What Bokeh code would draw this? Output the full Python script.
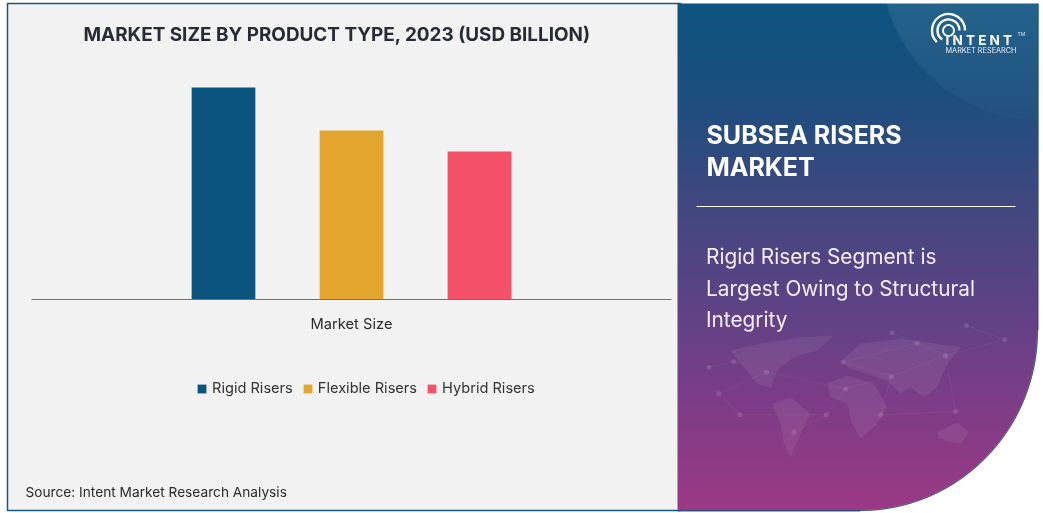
import numpy as np
from bokeh.embed import file_html
from bokeh.models import ColumnDataSource, FixedTicker, Label, Legend, LegendItem, LinearAxis, Range1d
from bokeh.plotting import figure
from bokeh.resources import INLINE
from bokeh.transform import dodge

# ---- chart data
categories = ["Market Size"]
series_names = ["Rigid Risers", "Flexible Risers", "Hybrid Risers"]
series_values = [10.6, 8.45, 7.4]
series_colors = ["#0b5480", "#e3a52d", "#f4506a"]
offsets = [-0.2, 0.0, 0.2]

title_text = "MARKET SIZE BY PRODUCT TYPE, 2023 (USD BILLION)"
source_text = "Source: Intent Market Research Analysis"
headline = ["SUBSEA RISERS", "MARKET"]
subhead = ["Rigid Risers Segment is", "Largest Owing to Structural", "Integrity"]

W, H = 1043, 513
FONT = "Inter"

# data -> page mapping: value 0 at y=299, 20 px per unit; group centre at x=351, 640 px per unit
p = figure(width=W, height=H, output_backend="svg", toolbar_location=None,
           x_range=Range1d(-351 / 640, (W - 351) / 640),
           y_range=Range1d((299 - H) / 20, 299 / 20),
           x_axis_location=None, y_axis_location=None,
           min_border=0, outline_line_color=None,
           background_fill_color="white", border_fill_color="white",
           styles={"position": "fixed", "left": "0", "top": "0"})
p.grid.visible = False
p.extra_x_ranges["px"] = Range1d(0, W)
p.extra_y_ranges["px"] = Range1d(H, 0)
px = dict(x_range_name="px", y_range_name="px")

# left panel and frame
p.quad(left=[7], right=[680], top=[3], bottom=[510], fill_color="#f2f2f2",
       line_color="#17577a", line_width=1.5, level="image", **px)

# right gradient panel as an RGBA image
x0, x1, y0, y1 = 677, 1038, 3, 511
xs = np.arange(x0, x1) + 0.5
ys = np.arange(y0, y1) + 0.5
X, Y = np.meshgrid(xs, ys)
stops_y = [3, 100, 200, 300, 400, 511]
stops = np.array([[13, 84, 128], [29, 78, 126], [64, 71, 127], [92, 67, 133], [125, 60, 135], [156, 57, 133]], float)
rgb = np.stack([np.interp(Y, stops_y, stops[:, i]) for i in range(3)], axis=-1)
d = np.hypot(X - 1040, Y + 40)
glow = np.clip((160.5 - d), 0, 1) * np.clip(0.09 - (Y / 1600), 0.015, 0.09)
rgb = rgb + (255 - rgb) * glow[..., None]
ECX, ECY, EA, EB = 860, 330, 177, 180
e = np.sqrt(((X - ECX) / EA) ** 2 + ((Y - ECY) / EB) ** 2)
mask = np.where((X > ECX) & (Y > ECY), np.clip((1 - e) * 170 + 0.5, 0, 1), 1.0)
img = np.zeros(X.shape, dtype=np.uint32)
view = img.view(dtype=np.uint8).reshape((*X.shape, 4))
view[..., :3] = np.round(rgb).astype(np.uint8)
view[..., 3] = np.round(mask * 255).astype(np.uint8)
p.image_rgba(image=[img], x=[x0], y=[y0], dw=[x1 - x0], dh=[y1 - y0], level="image", **px)

# thin dark edge around the right panel
t = np.radians(np.linspace(0, 90, 80))
edge_x = np.r_[1037.5, ECX + EA * np.cos(t), 677]
edge_y = np.r_[3, ECY + EB * np.sin(t), 510]
p.line(edge_x, edge_y, line_color="#27507c", line_width=1, line_alpha=0.9, **px)

# faint world map
Z = lambda pts: ([660 + a / 3 for a, _ in pts], [300 + b / 3 for _, b in pts])
continents = [
    [(210, 150), (300, 130), (420, 110), (520, 105), (470, 150), (400, 170), (350, 210), (330, 262), (290, 250), (250, 200)],
    [(335, 310), (390, 290), (450, 340), (420, 400), (390, 470), (370, 430), (360, 370)],
    [(500, 250), (560, 225), (640, 250), (680, 320), (650, 370), (600, 415), (575, 370), (560, 310), (510, 290)],
    [(545, 180), (600, 130), (720, 115), (900, 140), (860, 190), (830, 260), (790, 290), (750, 260), (720, 280), (680, 240), (620, 220), (560, 200)],
    [(830, 395), (890, 365), (925, 395), (900, 430), (835, 415)],
]
cx = [Z(c)[0] for c in continents]
cy = [Z(c)[1] for c in continents]
p.patches(cx, cy, fill_color="white", fill_alpha=0.07, line_color=None, **px)
nodes = [(145, 200), (220, 183), (318, 215), (175, 280), (238, 343), (497, 343), (400, 395), (555, 265),
         (548, 185), (693, 228), (660, 343), (885, 333), (855, 165), (770, 128), (1033, 118), (918, 75), (695, 97)]
nx, ny = Z(nodes)
p.scatter(nx, ny, size=5, fill_color="white", fill_alpha=0.12, line_color=None, **px)
links = [(0, 1), (1, 2), (2, 3), (2, 7), (3, 4), (4, 5), (5, 6), (5, 7), (7, 9), (8, 9), (9, 12), (9, 10), (10, 11), (11, 12), (12, 13), (13, 16), (12, 14), (14, 15), (8, 13)]
p.segment([nx[a] for a, _ in links], [ny[a] for a, _ in links], [nx[b] for _, b in links], [ny[b] for _, b in links],
          line_color="white", line_alpha=0.05, line_width=1, **px)

# bars
renderers = []
for name, val, col, off in zip(series_names, series_values, series_colors, offsets):
    src = ColumnDataSource(dict(cat=[0.0], val=[val]))
    r = p.vbar(x=dodge("cat", off), top="val", bottom=0, width=0.0995, fill_color=col, line_color=None, source=src)
    renderers.append(r)

# category axis
axis = LinearAxis(fixed_location=0, ticker=FixedTicker(ticks=[0]), major_label_overrides={0: categories[0]},
                  bounds=(-320 / 640, 320 / 640), axis_line_color="#6f7478", axis_line_width=1.2,
                  major_tick_line_color=None, minor_tick_line_color=None, major_label_standoff=9,
                  major_label_text_font=FONT, major_label_text_font_size="14.7px", major_label_text_color="#2a2a2a")
p.add_layout(axis, "below")

# legend
legend = Legend(items=[LegendItem(label=n, renderers=[r]) for n, r in zip(series_names, renderers)],
                orientation="horizontal", location=(196, H - 397), border_line_color=None,
                background_fill_alpha=0, padding=0, margin=0, spacing=9, glyph_width=11, glyph_height=11,
                label_standoff=5, label_text_font=FONT, label_text_font_size="14.6px", label_text_color="#333333",
                label_height=18)
p.add_layout(legend, "center")

def label(x, y, text, size, color="white", style="normal", **kw):
    p.add_layout(Label(x=x, y=H - y, text=text, x_units="screen", y_units="screen", text_font=FONT,
                       text_font_size=size, text_color=color, text_font_style=style,
                       text_baseline="middle", **kw))

label(83, 34, title_text, "18.9px", "#262b36", "bold")
label(25, 491, source_text, "13.7px", "#2a2a2a")
for t_, y in zip(headline, [134.5, 166.5]):
    label(706, y, t_, "25px", style="bold")
p.segment([696], [206], [1015], [206], line_color="white", line_width=1, **px)
for t_, y in zip(subhead, [255.5, 287.5, 318.5]):
    label(705.5, y, t_, "20.8px", "#f4eef6")

# logo
for r_, w, a0, a1 in [(16.5, 2.4, 0, 225), (11, 2.4, 0, 235), (5.5, 1.8, 0, 359)]:
    p.arc([948], [30], radius=r_, radius_units="screen", start_angle=np.radians(a0), end_angle=np.radians(a1),
          line_color="white", line_width=w, **px)
label(945, 39.5, "I N T E N T", "13.5px", style="bold")
label(945, 50, "MARKET RESEARCH", "7.3px", "#e8edf5")
label(1017, 33, "TM", "5px", "#d8e2ee")

open("out.html", "w").write(file_html(p, INLINE))
